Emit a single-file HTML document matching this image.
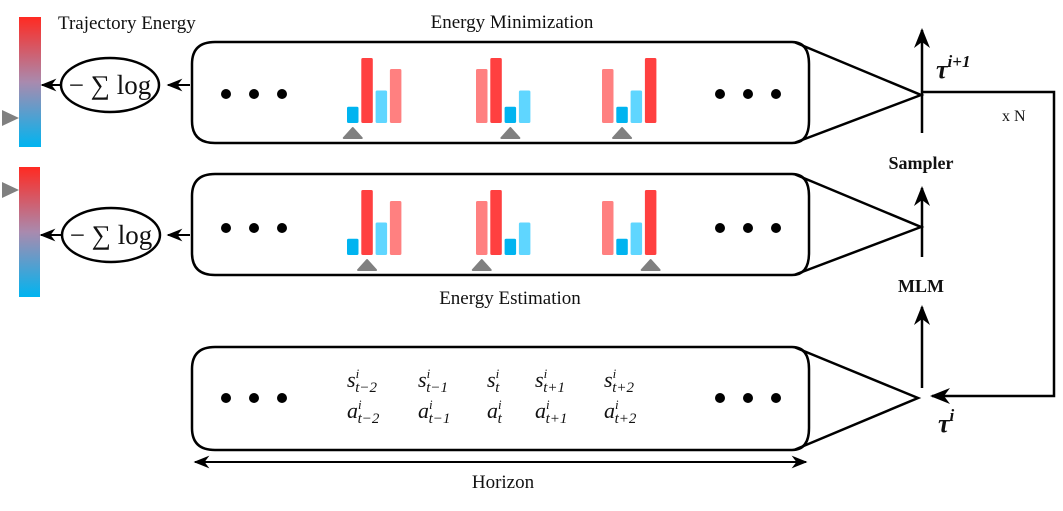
<!DOCTYPE html>
<html><head><meta charset="utf-8"><style>
html,body{margin:0;padding:0;background:#fff}
svg{display:block}
text{font-family:"Liberation Serif",serif;fill:#111}
</style></head><body>
<svg id="fig" width="1063" height="511" viewBox="0 0 1063 511" xmlns="http://www.w3.org/2000/svg">
<defs>
<linearGradient id="eg" x1="0" y1="0" x2="0" y2="1">
<stop offset="0" stop-color="#ff2a22"/><stop offset="0.5" stop-color="#a98aae"/><stop offset="1" stop-color="#00b4f0"/>
</linearGradient>
<marker id="ah" viewBox="0 0 10 10" refX="9" refY="5" markerWidth="8" markerHeight="8" orient="auto-start-reverse"><path d="M0,1 L10,5 L0,9 L3,5 z" fill="#000"/></marker>
</defs>

<text x="58" y="29" font-size="19">Trajectory Energy</text>
<text x="512" y="28" font-size="19" text-anchor="middle">Energy Minimization</text>
<text x="510" y="304" font-size="19" text-anchor="middle">Energy Estimation</text>

<rect x="19" y="17" width="22" height="130" fill="url(#eg)"/>
<rect x="19" y="167" width="21" height="130" fill="url(#eg)"/>
<path d="M2,110 L19,118 L2,126 z" fill="#808080"/>
<path d="M2,182 L19,190 L2,198 z" fill="#808080"/>

<g>
<ellipse cx="110" cy="85" rx="49" ry="27" fill="none" stroke="#000" stroke-width="2.5"/>
<text x="110" y="94" font-size="27" text-anchor="middle">− ∑ log</text>
</g>
<g>
<ellipse cx="111" cy="235" rx="49" ry="27" fill="none" stroke="#000" stroke-width="2.5"/>
<text x="111" y="244" font-size="27" text-anchor="middle">− ∑ log</text>
</g>
<line x1="190" y1="85" x2="168" y2="85" stroke="#000" stroke-width="2" marker-end="url(#ah)"/>
<line x1="61" y1="85" x2="42" y2="85" stroke="#000" stroke-width="2" marker-end="url(#ah)"/>
<line x1="190" y1="235" x2="168" y2="235" stroke="#000" stroke-width="2" marker-end="url(#ah)"/>
<line x1="62" y1="235" x2="41" y2="235" stroke="#000" stroke-width="2" marker-end="url(#ah)"/>

<g fill="none" stroke="#000" stroke-width="2.5">
<path d="M792,42 H215 Q192,42 192,64 V121 Q192,143 215,143 H792 Q809,143 809,121 V64 Q809,42 792,42 Z"/>
<path d="M794,42 L921,95 L794,143" />
<path d="M792,174 H215 Q192,174 192,196 V253 Q192,275 215,275 H792 Q809,275 809,253 V196 Q809,174 792,174 Z"/>
<path d="M794,174 L921,227 L794,275"/>
<path d="M792,347 H215 Q192,347 192,369 V428 Q192,450 215,450 H792 Q809,450 809,428 V369 Q809,347 792,347 Z"/>
<path d="M794,347 L918,398 L794,450"/>
</g>

<g id="dots" fill="#000"></g>
<g id="bars"></g>

<line x1="922" y1="133" x2="922" y2="30" stroke="#000" stroke-width="2.5" marker-end="url(#ah)"/>
<line x1="922" y1="257" x2="922" y2="188" stroke="#000" stroke-width="2.5" marker-end="url(#ah)"/>
<line x1="922" y1="388" x2="922" y2="307" stroke="#000" stroke-width="2.5" marker-end="url(#ah)"/>
<path d="M922,92 H1054 V396 H932" fill="none" stroke="#000" stroke-width="2.5" marker-end="url(#ah)"/>
<text x="1002" y="121" font-size="16">x N</text>
<text x="936" y="78" font-size="26" font-weight="bold" font-style="italic">τ<tspan dy="-11" font-size="17">i+1</tspan></text>
<text x="938" y="432" font-size="26" font-weight="bold" font-style="italic">τ<tspan dy="-11" font-size="17">i</tspan></text>
<text x="921" y="169" font-size="18" font-weight="bold" text-anchor="middle">Sampler</text>
<text x="921" y="292" font-size="18" font-weight="bold" text-anchor="middle">MLM</text>

<g font-size="22" font-style="italic">
<text x="347" y="387">s<tspan dy="-9" font-size="13">i</tspan><tspan dx="-4" dy="14" font-size="15">t−2</tspan></text>
<text x="418" y="387">s<tspan dy="-9" font-size="13">i</tspan><tspan dx="-4" dy="14" font-size="15">t−1</tspan></text>
<text x="487" y="387">s<tspan dy="-9" font-size="13">i</tspan><tspan dx="-4" dy="14" font-size="15">t</tspan></text>
<text x="535" y="387">s<tspan dy="-9" font-size="13">i</tspan><tspan dx="-4" dy="14" font-size="15">t+1</tspan></text>
<text x="604" y="387">s<tspan dy="-9" font-size="13">i</tspan><tspan dx="-4" dy="14" font-size="15">t+2</tspan></text>
<text x="347" y="418">a<tspan dy="-9" font-size="13">i</tspan><tspan dx="-4" dy="14" font-size="15">t−2</tspan></text>
<text x="418" y="418">a<tspan dy="-9" font-size="13">i</tspan><tspan dx="-4" dy="14" font-size="15">t−1</tspan></text>
<text x="487" y="418">a<tspan dy="-9" font-size="13">i</tspan><tspan dx="-4" dy="14" font-size="15">t</tspan></text>
<text x="535" y="418">a<tspan dy="-9" font-size="13">i</tspan><tspan dx="-4" dy="14" font-size="15">t+1</tspan></text>
<text x="604" y="418">a<tspan dy="-9" font-size="13">i</tspan><tspan dx="-4" dy="14" font-size="15">t+2</tspan></text>
</g>

<line x1="195" y1="462" x2="806" y2="462" stroke="#000" stroke-width="2" marker-start="url(#ah)" marker-end="url(#ah)"/>
<text x="503" y="488" font-size="19" text-anchor="middle">Horizon</text>
</svg>
<script>
const groupX = [347, 476, 602];
const topKinds = [["blue","red","lblue","pink"],["pink","red","blue","lblue"],["pink","blue","lblue","red"]];
const kindValue = {blue:0.25, lblue:0.5, pink:0.83, red:1.0};
const topMarkers = [0, 2, 1];
const botMarkers = [1, 0, 3];
const colors = {blue:"#00b4f0", lblue:"#5fd6ff", pink:"#ff8080", red:"#ff4040"};
const NS = "http://www.w3.org/2000/svg";
const bars = document.getElementById('bars');
const maxH = 65, bw = 11.5, stride = 14.3;
function drawPanel(base, markers) {
  groupX.forEach((gx, gi) => {
    topKinds[gi].forEach((k, bi) => {
      const h = kindValue[k] * maxH;
      const r = document.createElementNS(NS, 'rect');
      r.setAttribute('x', gx + bi * stride);
      r.setAttribute('y', base - h);
      r.setAttribute('width', bw);
      r.setAttribute('height', h);
      r.setAttribute('rx', 1.5);
      r.setAttribute('fill', colors[k]);
      
      
      bars.appendChild(r);
    });
    const cx = gx + markers[gi] * stride + bw / 2;
    const t = document.createElementNS(NS, 'path');
    t.setAttribute('d', `M${cx-9},${base+15} L${cx},${base+5} L${cx+9},${base+15} z`);
    t.setAttribute('fill', '#808080');
    t.setAttribute('stroke', '#808080');
    t.setAttribute('stroke-linejoin', 'round');
    t.setAttribute('stroke-width', '2');
    
    
    bars.appendChild(t);
  });
}
drawPanel(123, topMarkers);
drawPanel(255, botMarkers);
const dots = document.getElementById('dots');
[94, 228, 398].forEach(y => {
  [226, 254, 282, 720, 748, 776].forEach(x => {
    const c = document.createElementNS(NS, 'circle');
    c.setAttribute('cx', x); c.setAttribute('cy', y); c.setAttribute('r', 5);
    
    
    dots.appendChild(c);
  });
});
</script>
</body></html>
